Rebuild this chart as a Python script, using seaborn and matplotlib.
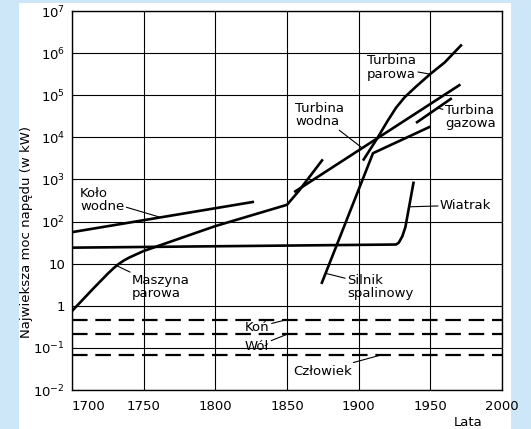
import matplotlib
matplotlib.use("Agg")
import matplotlib.pyplot as plt
import seaborn as sns
from matplotlib.patches import Rectangle

# values (years, kW)
kolo_years = [1700, 1827]
kolo_kw = [56, 295]

maszyna_years = [1700, 1715, 1725, 1729, 1732, 1736, 1740, 1750, 1800, 1850, 1858, 1875]
maszyna_kw = [0.75, 2.6, 5.8, 7.8, 9.5, 11.8, 14, 20, 78, 250, 520, 3000]

wiatrak_years = [1700, 1926, 1928, 1930.5, 1932.6, 1938.4]
wiatrak_kw = [24, 28.5, 31.5, 45, 74, 890]

wodna_years = [1855, 1971]
wodna_kw = [500, 180000]

parowa_years = [1903, 1913, 1920, 1926, 1932, 1940, 1950, 1960, 1972]
parowa_kw = [2800, 9500, 24000, 50000, 89000, 160000, 320000, 600000, 1600000]

silnik_years = [1874, 1910, 1950]
silnik_kw = [3.3, 4200, 18000]

gazowa_years = [1940, 1965]
gazowa_kw = [22000, 85000]

span_years = [1700, 2000]
kon_kw = [0.47, 0.47]
wol_kw = [0.21, 0.21]
czlowiek_kw = [0.067, 0.067]

x_ticks = [1700, 1750, 1800, 1850, 1900, 1950, 2000]
y_ticks = [1e-2, 1e-1, 1, 10, 1e2, 1e3, 1e4, 1e5, 1e6, 1e7]
y_labels = ['$10^{-2}$', '$10^{-1}$', '1', '10', '$10^{2}$', '$10^{3}$',
            '$10^{4}$', '$10^{5}$', '$10^{6}$', '$10^{7}$']

sns.set_style("white")
plt.rcParams['font.family'] = ['DejaVu Sans']
for key in ['text.color', 'xtick.color', 'ytick.color', 'axes.labelcolor']:
    plt.rcParams[key] = 'black'

fig = plt.figure(figsize=(5.31, 4.29), dpi=100, facecolor='#cde7f8')
fig.patches.append(Rectangle((19 / 531, 0), 492 / 531, 426 / 429,
                             transform=fig.transFigure, facecolor='white',
                             edgecolor='none', zorder=-10))
ax = fig.add_axes([72 / 531, 39 / 429, 430 / 531, 379 / 429])
ax.set_facecolor('white')

lw = 1.9
solid = [(kolo_years, kolo_kw), (maszyna_years, maszyna_kw),
         (wiatrak_years, wiatrak_kw), (wodna_years, wodna_kw),
         (parowa_years, parowa_kw), (silnik_years, silnik_kw),
         (gazowa_years, gazowa_kw)]
for xs, ys in solid:
    sns.lineplot(x=xs, y=ys, ax=ax, color='black', linewidth=lw,
                 sort=False, estimator=None, solid_capstyle='butt')

for ys in [kon_kw, wol_kw, czlowiek_kw]:
    sns.lineplot(x=span_years, y=ys, ax=ax, color='black', linewidth=1.6,
                 estimator=None, dashes=False, linestyle=(0, (7, 3.5)))

ax.set_yscale('log')
ax.set_xlim(1700, 2000)
ax.set_ylim(1e-2, 1e7)
ax.set_xticks(x_ticks)
ax.set_xticklabels([str(t) for t in x_ticks], fontsize=9.5)
ax.get_xticklabels()[0].set_horizontalalignment('left')
ax.set_yticks(y_ticks)
ax.set_yticklabels(y_labels, fontsize=9.5)
ax.minorticks_off()
ax.tick_params(axis='x', length=0, pad=7)
ax.tick_params(axis='y', length=0, pad=5)
ax.grid(True, color='black', linewidth=0.8)
for s in ax.spines.values():
    s.set_color('black')
    s.set_linewidth(1.0)

fig.text(27 / 531, 1 - 232 / 429, 'Najwieksza moc napędu (w kW)', rotation=90,
         ha='center', va='center', fontsize=9.5)
fig.text(468 / 531, 1 - 422 / 429, 'Lata', ha='center', va='center', fontsize=9.5)

leader = dict(arrowstyle='-', color='black', lw=0.8, shrinkA=0, shrinkB=0)
notes = [
    ('Koło\nwodne', (1761, 128), (1705.6, 10 ** 2.51)),
    ('Maszyna\nparowa', (1731, 9), (1741.9, 10 ** 0.45)),
    ('Turbina\nwodna', (1902, 10 ** 3.76), (1855.6, 10 ** 4.53)),
    ('Turbina\nparowa', (1950, 10 ** 5.5), (1905.8, 10 ** 5.66)),
    ('Turbina\ngazowa', (1955, 10 ** 4.7), (1960.2, 10 ** 4.48)),
    ('Wiatrak', (1935.2, 10 ** 2.35), (1956.7, 10 ** 2.39)),
    ('Silnik\nspalinowy', (1877, 10 ** 0.77), (1891.9, 10 ** 0.445)),
    ('Koń', (1850, 0.47), (1820.7, 10 ** -0.505)),
    ('Wół', (1850, 0.21), (1820.7, 10 ** -0.96)),
    ('Człowiek', (1915, 0.067), (1854.2, 10 ** -1.55)),
]
for label, xy, xytext in notes:
    ax.annotate(label, xy=xy, xytext=xytext, ha='left', va='center',
                fontsize=9.5, linespacing=1.05,
                bbox=dict(boxstyle='square,pad=0.15', fc='none', ec='none'),
                arrowprops=leader)

fig.savefig('out.png', dpi=100, facecolor=fig.get_facecolor())
